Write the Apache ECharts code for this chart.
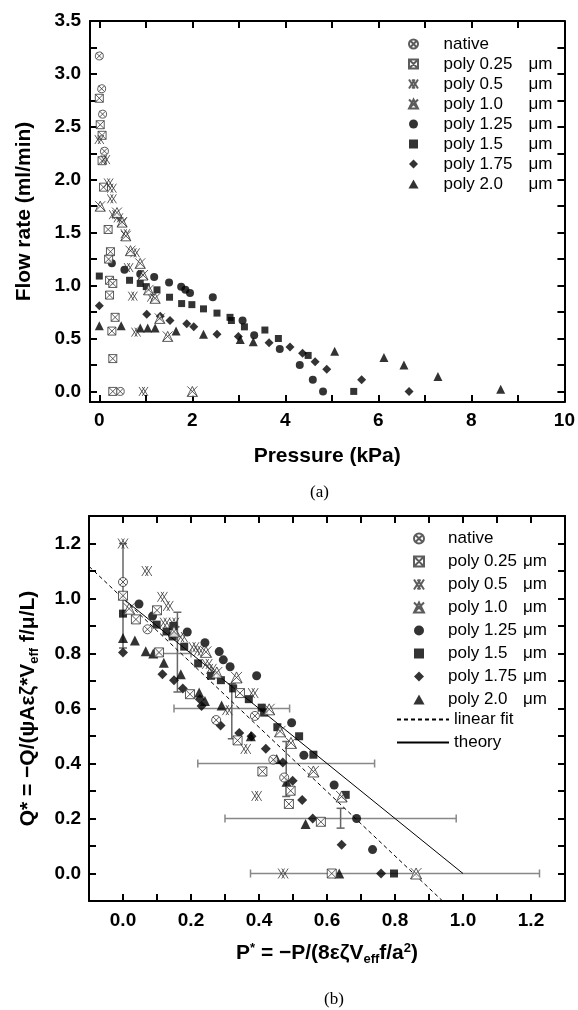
<!DOCTYPE html>
<html><head><meta charset="utf-8">
<script src="https://cdn.jsdelivr.net/npm/echarts@6/dist/echarts.min.js"></script>
<style>html,body{margin:0;padding:0;background:#fff}#c{width:578px;height:1010px}</style>
</head><body><div id="c"></div>
<script>
const seriesNames = ['native','poly 0.25 μm','poly 0.5 μm','poly 1.0 μm','poly 1.25 μm','poly 1.5 μm','poly 1.75 μm','poly 2.0 μm'];

// ---- panel (a): Pressure (kPa) vs Flow rate (ml/min)
const aNative = [[0,3.17],[0.05,2.86],[0.07,2.62],[0.11,2.27],[0.45,0]];
const a025 = [[0,2.77],[0.02,2.52],[0.06,2.42],[0.06,2.18],[0.09,1.93],[0.19,1.53],[0.24,1.32],[0.2,1.25],[0.22,1.05],[0.29,1.02],[0.22,0.91],[0.34,0.70],[0.27,0.57],[0.29,0.31],[0.29,0]];
const a05 = [[0,2.38],[0.13,2.19],[0.2,1.97],[0.27,1.92],[0.27,1.82],[0.31,1.67],[0.41,1.64],[0.49,1.6],[0.56,1.49],[0.77,1.31],[0.63,1.17],[1.13,0.89],[0.72,0.9],[0.79,0.56],[0.95,0]];
const a10 = [[0.02,1.75],[0.38,1.69],[0.49,1.6],[0.57,1.47],[0.67,1.33],[0.88,1.21],[0.94,1.1],[1.06,0.96],[1.2,0.88],[1.3,0.69],[1.47,0.52],[2.0,0]];
const a125 = [[0.27,1.21],[0.54,1.15],[0.88,1.11],[1.18,1.08],[1.5,1.03],[1.76,0.99],[1.85,0.96],[1.95,0.93],[2.44,0.89],[3.08,0.67],[3.33,0.53],[3.88,0.40],[4.31,0.25],[4.59,0.11],[4.81,0]];
const a15 = [[0,1.09],[0.65,1.05],[0.88,1.02],[1.01,0.99],[1.24,0.96],[1.51,0.89],[1.77,0.83],[1.99,0.82],[2.24,0.78],[2.53,0.74],[2.81,0.70],[2.84,0.67],[3.12,0.61],[3.56,0.58],[3.85,0.50],[4.49,0.34],[5.47,0]];
const a175 = [[0,0.81],[1.02,0.73],[1.31,0.71],[1.52,0.67],[1.88,0.64],[2.03,0.61],[2.53,0.54],[2.99,0.52],[3.65,0.46],[4.1,0.42],[4.37,0.36],[4.64,0.28],[4.89,0.21],[5.64,0.11],[6.66,0]];
const a20 = [[0,0.62],[0.47,0.62],[0.88,0.6],[1.04,0.6],[1.2,0.6],[1.65,0.57],[2.24,0.54],[3.03,0.49],[3.31,0.47],[5.06,0.38],[6.12,0.32],[6.55,0.25],[7.28,0.14],[8.63,0.02]];
const aTicksX = [0,1,2,3,4,5,6,7,8,9,10];
const aLabelsX = [0,2,4,6,8,10];
const aTicksY = [0,0.25,0.5,0.75,1,1.25,1.5,1.75,2,2.25,2.5,2.75,3,3.25,3.5];
const aLabelsY = [0,0.5,1,1.5,2,2.5,3,3.5];

// ---- panel (b): P* vs Q*
const bNative = [[0,1.06],[0.072,0.888],[0.274,0.558],[0.388,0.573],[0.442,0.414],[0.474,0.349]];
const b025 = [[0,1.01],[0.038,0.924],[0.10,0.957],[0.106,0.804],[0.197,0.652],[0.344,0.656],[0.337,0.484],[0.41,0.371],[0.493,0.301],[0.488,0.253],[0.582,0.188],[0.614,0]];
const b05 = [[0,1.2],[0.07,1.1],[0.116,1.006],[0.133,0.973],[0.124,0.912],[0.15,0.912],[0.175,0.86],[0.209,0.823],[0.224,0.81],[0.248,0.762],[0.26,0.744],[0.307,0.594],[0.383,0.656],[0.361,0.453],[0.393,0.282],[0.471,0]];
const b10 = [[0.018,0.963],[0.15,0.88],[0.244,0.806],[0.276,0.731],[0.334,0.713],[0.43,0.597],[0.462,0.517],[0.494,0.475],[0.56,0.371],[0.643,0.28],[0.862,0]];
const b125 = [[0.047,0.98],[0.087,0.936],[0.189,0.878],[0.241,0.839],[0.283,0.807],[0.295,0.777],[0.315,0.752],[0.393,0.719],[0.496,0.548],[0.532,0.43],[0.621,0.322],[0.687,0.2],[0.734,0.087]];
const b15 = [[0,0.945],[0.099,0.905],[0.148,0.9],[0.128,0.88],[0.146,0.862],[0.18,0.825],[0.221,0.764],[0.259,0.719],[0.288,0.703],[0.324,0.673],[0.37,0.634],[0.408,0.603],[0.415,0.585],[0.454,0.532],[0.518,0.499],[0.56,0.432],[0.655,0.286],[0.797,0]];
const b175 = [[0,0.804],[0.116,0.725],[0.15,0.703],[0.176,0.673],[0.226,0.634],[0.231,0.609],[0.287,0.538],[0.342,0.511],[0.378,0.499],[0.42,0.454],[0.47,0.404],[0.499,0.337],[0.527,0.267],[0.558,0.2],[0.643,0.105],[0.759,0]];
const b20 = [[0,0.856],[0.035,0.847],[0.067,0.808],[0.089,0.80],[0.12,0.766],[0.17,0.725],[0.224,0.658],[0.241,0.627],[0.29,0.611],[0.376,0.499],[0.452,0.416],[0.481,0.334],[0.537,0.18],[0.636,0]];
const fitLine = [[-0.1,1.117],[0.94,-0.1]];
const theoryLine = [[0,1],[1,0]];
// error bars: [x, y, xLow, xHigh, yLow, yHigh]
const errBars = [
  [0, 1.01, null, null, 0.82, 1.20],
  [0.16, 0.80, 0.10, 0.20, 0.66, 0.95],
  [0.32, 0.60, 0.15, 0.49, 0.49, 0.69],
  [0.48, 0.40, 0.22, 0.74, 0.28, 0.48],
  [0.64, 0.20, 0.30, 0.98, 0.165, 0.237],
  [0.80, 0.00, 0.375, 1.225, null, null]
];
const bTicks = [0,0.1,0.2,0.3,0.4,0.5,0.6,0.7,0.8,0.9,1.0,1.1,1.2];
const bLabels = [0,0.2,0.4,0.6,0.8,1.0,1.2];

const FONT = 'Liberation Sans, Arial, sans-serif';
const SYM = {
  circX: 'path://M50,2A48,48,0,1,1,49.9,2Z M16,16L84,84M84,16L16,84',
  boxX: 'path://M2,2H98V98H2Z M2,2L98,98M98,2L2,98',
  dblX: 'path://M0,0L64,100M64,0L0,100M36,0L100,100M100,0L36,100',
  triX: 'path://M50,0L100,100H0Z M0,0L100,100M100,0L0,100',
  circle: 'circle',
  square: 'path://M0,0H100V100H0Z',
  diamond: 'path://M50,0L100,50L50,100L0,50Z',
  triangle: 'path://M50,0L100,90H0Z'
};

function sc(name, data, sym, size, open, ai) {
  return {
    type: 'scatter', name, data, xAxisIndex: ai, yAxisIndex: ai,
    symbol: sym, symbolSize: size,
    itemStyle: open ? {color: '#fff', borderColor: '#333', borderWidth: 1} : {color: '#000'},
    emphasis: {disabled: true}, z: open ? 3 : 2
  };
}

function axisBase(min, max, ticks, labels, fmt, showLabels, pos, gi, name, nameGap, margin) {
  return {
    type: 'value', gridIndex: gi, position: pos, min, max,
    name: name || '', nameLocation: 'middle', nameGap: nameGap || 0,
    nameTextStyle: {fontFamily: FONT, fontWeight: 'bold', fontSize: 21, color: '#000',
      rich: {
        sub: {fontFamily: FONT, fontWeight: 'bold', fontSize: 13, lineHeight: 13, padding: [11,0,0,0], color:'#000'},
        sup: {fontFamily: FONT, fontWeight: 'bold', fontSize: 13, lineHeight: 13, padding: [0,0,11,0], color:'#000'}
      }},
    axisLine: {show: true, onZero: false, lineStyle: {color: '#000', width: 2}},
    axisTick: {show: true, inside: true, length: 7, customValues: ticks, lineStyle: {color: '#000', width: 2}},
    axisLabel: {show: showLabels, customValues: labels, formatter: fmt, margin: margin || 8,
      fontFamily: FONT, fontWeight: 'bold', fontSize: 19, color: '#000'},
    splitLine: {show: false}, minorTick: {show: false}
  };
}
const f1 = v => (Math.round(v * 10) / 10).toFixed(1);
const f0 = v => String(Math.round(v));

function legendRich(w, lh) {
  return {
    n: {fontFamily: FONT, fontSize: 17, width: w, lineHeight: lh, color: '#000'},
    u: {fontFamily: FONT, fontSize: 17, lineHeight: lh, color: '#000'}
  };
}
const legendFmt = name => {
  const m = name.match(/^(poly [0-9.]+)\s+(μm)$/);
  return m ? '{n|' + m[1] + '}{u|' + m[2] + '}' : '{n|' + name + '}';
};

const chart = echarts.init(document.getElementById('c'), null, {renderer: 'canvas'});
chart.setOption({
  animation: false,
  backgroundColor: '#fff',
  grid: [
    {left: 90, top: 21, width: 475, height: 381, containLabel: false},
    {left: 89, top: 516, width: 476, height: 385, containLabel: false}
  ],
  xAxis: [
    axisBase(-0.2, 10, aTicksX, aLabelsX, f0, true, 'bottom', 0, 'Pressure (kPa)', 44, 9),
    axisBase(-0.2, 10, aTicksX, aLabelsX, f0, false, 'top', 0),
    axisBase(-0.1, 1.3, bTicks, bLabels, f1, true, 'bottom', 1, 'P{sup|*} = −P/(8εζV{sub|eff}f/a{sup|2})', 42, 10),
    axisBase(-0.1, 1.3, bTicks, bLabels, f1, false, 'top', 1)
  ],
  yAxis: [
    axisBase(-0.1, 3.5, aTicksY, aLabelsY, f1, true, 'left', 0, 'Flow rate (ml/min)', 55, 9),
    axisBase(-0.1, 3.5, aTicksY, aLabelsY, f1, false, 'right', 0),
    axisBase(-0.1, 1.3, bTicks, bLabels, f1, true, 'left', 1, 'Q* = −Q/(ψAεζ*V{sub|eff} f/μ/L)', 50, 8),
    axisBase(-0.1, 1.3, bTicks, bLabels, f1, false, 'right', 1)
  ],
  legend: [
    {data: seriesNames, orient: 'vertical', left: 403, top: 29, itemWidth: 50, itemHeight: 9, itemGap: 0,
     selectedMode: false, formatter: legendFmt,
     textStyle: {fontFamily: FONT, fontSize: 17, lineHeight: 20, color: '#000', rich: legendRich(85, 20)}},
    {data: seriesNames, orient: 'vertical', left: 408, top: 522, itemWidth: 48, itemHeight: 10, itemGap: 0,
     selectedMode: false, formatter: legendFmt,
     textStyle: {fontFamily: FONT, fontSize: 17, lineHeight: 23, color: '#000', rich: legendRich(75, 23)}},
    {data: ['linear fit', 'theory'], orient: 'vertical', left: 391, top: 703, itemWidth: 52, itemHeight: 9, itemGap: 0,
     selectedMode: false, itemStyle: {opacity: 0},
     textStyle: {fontFamily: FONT, fontSize: 17, lineHeight: 23, color: '#000'}}
  ],
  graphic: [
    {type: 'text', left: 310, top: 484, style: {text: '(a)', font: '17px "Liberation Serif", serif', fill: '#000'}},
    {type: 'text', left: 324, top: 991, style: {text: '(b)', font: '17px "Liberation Serif", serif', fill: '#000'}}
  ],
  series: [
    sc(seriesNames[0], aNative, SYM.circX, 8, true, 0),
    sc(seriesNames[1], a025, SYM.boxX, 8, true, 0),
    sc(seriesNames[2], a05, SYM.dblX, 9, true, 0),
    sc(seriesNames[3], a10, SYM.triX, 10, true, 0),
    sc(seriesNames[4], a125, SYM.circle, 8, false, 0),
    sc(seriesNames[5], a15, SYM.square, 7, false, 0),
    sc(seriesNames[6], a175, SYM.diamond, 9, false, 0),
    sc(seriesNames[7], a20, SYM.triangle, 9, false, 0),
    {
      type: 'custom', name: 'err', xAxisIndex: 2, yAxisIndex: 2, z: 1,
      dimensions: ['x','y','xl','xh','yl','yh'],
      encode: {x: 0, y: 1},
      data: errBars.map(r => r.map(v => v === null ? '-' : v)),
      renderItem: function (params, api) {
        const x = api.value(0), y = api.value(1);
        const xl = api.value(2), xh = api.value(3), yl = api.value(4), yh = api.value(5);
        const ch = [];
        const hs = {stroke: '#888', lineWidth: 1.5};
        const vs = {stroke: '#666', lineWidth: 1.5};
        const cap = 4;
        if (!isNaN(xl) && !isNaN(xh)) {
          const p1 = api.coord([xl, y]), p2 = api.coord([xh, y]);
          ch.push({type: 'line', shape: {x1: p1[0], y1: p1[1], x2: p2[0], y2: p2[1]}, style: hs});
          ch.push({type: 'line', shape: {x1: p1[0], y1: p1[1]-cap, x2: p1[0], y2: p1[1]+cap}, style: hs});
          ch.push({type: 'line', shape: {x1: p2[0], y1: p2[1]-cap, x2: p2[0], y2: p2[1]+cap}, style: hs});
        }
        if (!isNaN(yl) && !isNaN(yh)) {
          const p1 = api.coord([x, yl]), p2 = api.coord([x, yh]);
          ch.push({type: 'line', shape: {x1: p1[0], y1: p1[1], x2: p2[0], y2: p2[1]}, style: vs});
          ch.push({type: 'line', shape: {x1: p1[0]-cap, y1: p1[1], x2: p1[0]+cap, y2: p1[1]}, style: vs});
          ch.push({type: 'line', shape: {x1: p2[0]-cap, y1: p2[1], x2: p2[0]+cap, y2: p2[1]}, style: vs});
        }
        return {type: 'group', children: ch};
      }
    },
    {type: 'line', name: 'linear fit', data: fitLine, xAxisIndex: 2, yAxisIndex: 2, symbol: 'none', showSymbol: false, z: 1,
     itemStyle: {color: '#000', opacity: 0},
     lineStyle: {color: '#000', width: 1, type: [4, 3]}, emphasis: {disabled: true}},
    {type: 'line', name: 'theory', data: theoryLine, xAxisIndex: 2, yAxisIndex: 2, symbol: 'none', showSymbol: false, z: 1,
     itemStyle: {color: '#000', opacity: 0},
     lineStyle: {color: '#000', width: 1}, emphasis: {disabled: true}},
    sc(seriesNames[0], bNative, SYM.circX, 9, true, 2),
    sc(seriesNames[1], b025, SYM.boxX, 9, true, 2),
    sc(seriesNames[2], b05, SYM.dblX, 10, true, 2),
    sc(seriesNames[3], b10, SYM.triX, 11, true, 2),
    sc(seriesNames[4], b125, SYM.circle, 9, false, 2),
    sc(seriesNames[5], b15, SYM.square, 8, false, 2),
    sc(seriesNames[6], b175, SYM.diamond, 10, false, 2),
    sc(seriesNames[7], b20, SYM.triangle, 10, false, 2)
  ]
});
</script></body></html>
